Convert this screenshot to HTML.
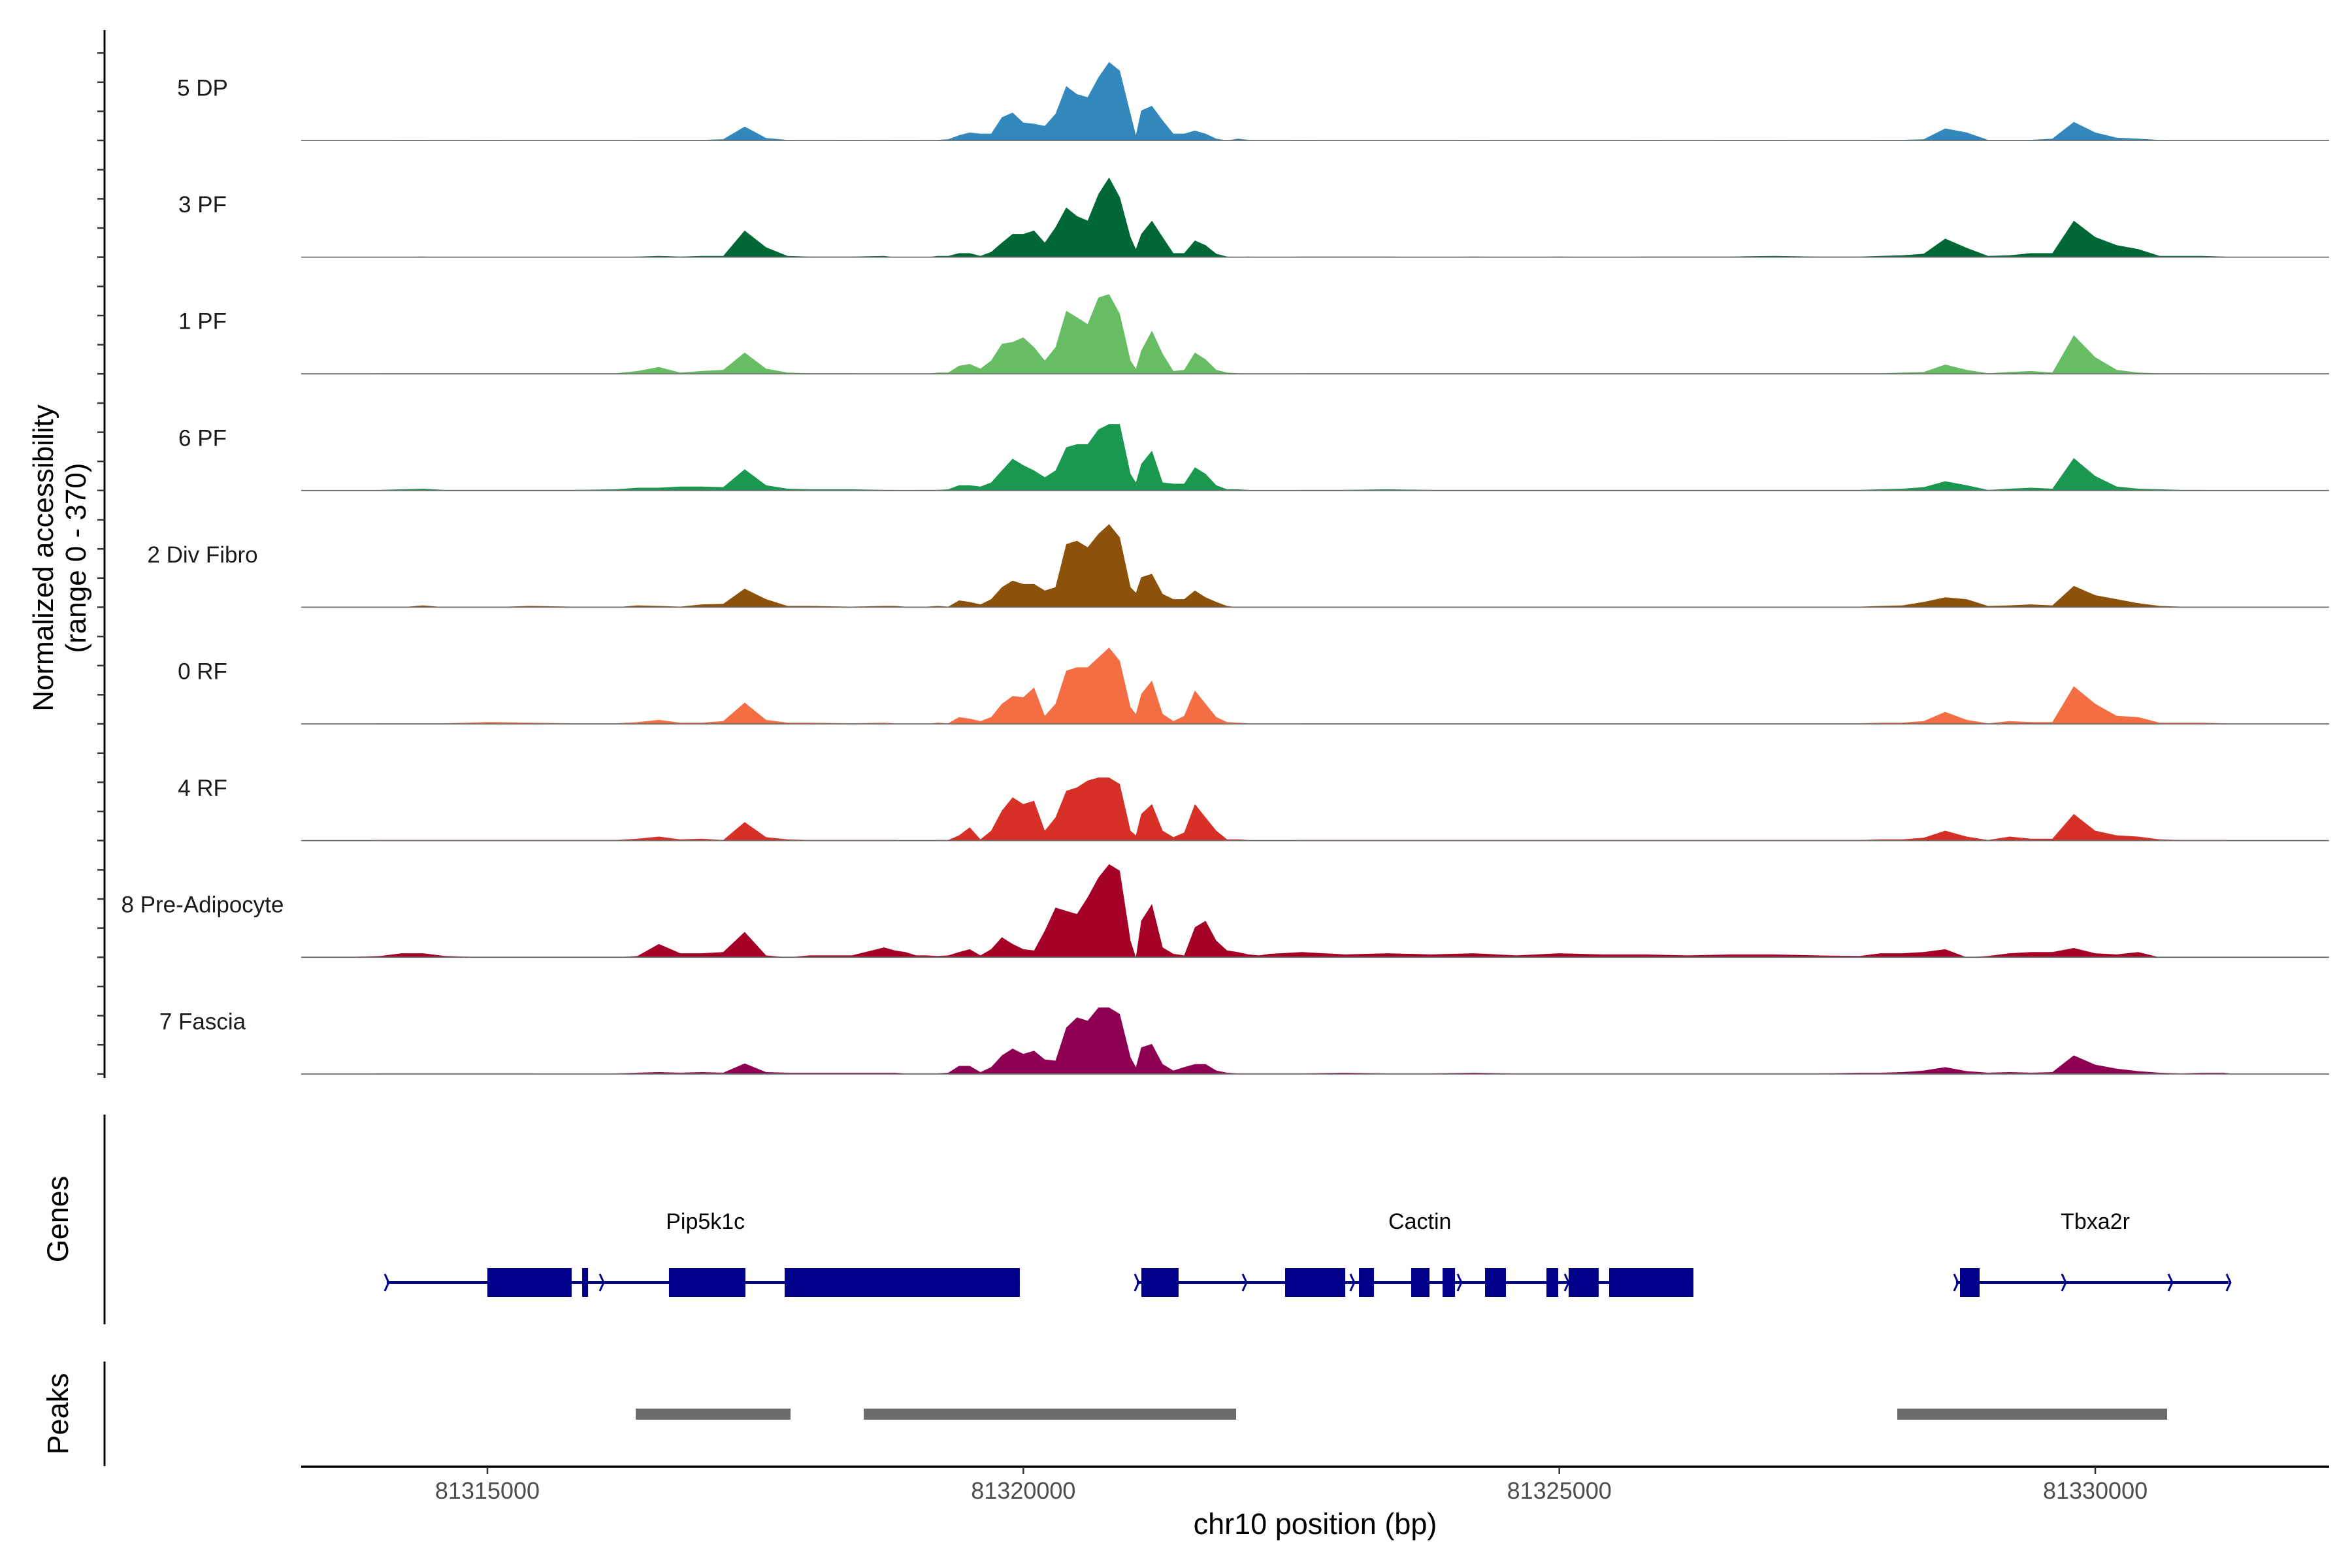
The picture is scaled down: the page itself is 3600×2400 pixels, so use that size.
<!DOCTYPE html>
<html><head><meta charset="utf-8"><style>
html,body{margin:0;padding:0;background:#fff;}
svg{display:block;font-family:"Liberation Sans",Arial,sans-serif;}
</style></head><body>
<svg id="chart" width="3600" height="2400" viewBox="0 0 3600 2400" xmlns="http://www.w3.org/2000/svg"></svg>
<script>
// ---- data ----
const trackNames = ["5 DP","3 PF","1 PF","6 PF","2 Div Fibro","0 RF","4 RF","8 Pre-Adipocyte","7 Fascia"];
const trackColors = ["#3288bd","#006837","#66bd63","#1a9850","#8c510a","#f46d43","#d73027","#a50026","#8e0152"];
const positions = [
81313200,81313600,81314000,81314200,81314400,81314600,81315000,81315400,81315800,81316200,81316400,81316600,81316800,81317000,81317200,81317400,81317600,81317800,81318000,81318400,
81318700,81318800,81318900,81319000,81319100,81319200,81319300,81319400,81319500,81319600,81319700,81319800,81319900,81320000,81320100,81320200,81320300,81320400,81320500,81320600,81320700,81320800,81320900,81321000,81321050,81321100,81321200,81321300,81321400,81321500,81321600,81321700,81321800,81321900,81322000,81322100,81322200,81322300,
81322600,81323000,81323400,81323800,81324200,81324600,81325000,81325400,81325800,81326200,81326600,81327000,81327400,81327800,81328000,81328200,81328400,81328600,81328800,81329000,81329200,81329400,81329600,81329800,81330000,81330200,81330400,81330600,81330800,81331000,81331200,81331300];
const covDP5 = [0,0,0,2,2,0,2,0,0,0,2,2,2,2,4,45,8,2,0,2,
0,2,2,2,0,2,4,17,26,22,22,75,90,58,54,47,86,176,150,140,204,254,226,86,17,97,112,65,22,22,32,22,6,0,6,2,0,0,
2,0,0,0,2,0,0,0,2,0,2,2,0,0,2,2,4,39,26,2,2,2,6,60,26,9,6,2,0,0,0,0];
const covPF3 = [0,0,0,0,2,0,0,0,0,0,2,4,2,4,4,86,32,4,2,2,
4,0,0,0,0,4,4,13,13,4,17,47,75,75,86,47,97,161,133,118,204,258,194,65,26,75,118,65,13,13,54,39,11,2,0,2,0,0,
2,2,2,0,2,0,2,0,2,2,2,4,2,2,4,6,11,60,30,4,6,13,13,118,65,39,26,4,4,4,2,0];
const covPF1 = [0,0,2,2,2,2,2,2,2,2,9,22,4,9,13,69,17,4,2,2,
0,0,0,0,0,4,4,26,32,17,43,97,103,118,86,43,86,204,183,161,247,258,194,43,17,75,140,65,9,13,69,47,13,4,2,0,0,0,
2,2,2,2,2,2,2,2,2,2,2,2,2,2,2,4,6,30,13,2,6,9,4,125,54,13,4,2,2,2,0,0];
const covPF6 = [0,0,2,4,6,2,2,2,2,4,9,9,13,13,11,69,17,6,4,4,
2,2,0,2,2,2,4,17,17,13,26,65,103,82,65,43,65,140,150,150,198,215,215,54,26,86,129,26,22,22,75,54,17,4,4,2,0,0,
2,2,4,2,2,2,2,2,2,2,2,2,2,2,4,6,11,30,17,2,6,9,6,105,47,13,6,4,2,2,0,0];
const covDiv2 = [0,0,0,0,6,0,0,4,2,0,6,4,2,9,11,60,26,4,4,2,
4,4,2,2,2,4,2,22,17,9,26,65,86,75,75,54,65,204,215,194,237,269,226,65,47,97,108,43,26,26,54,32,17,4,0,0,0,0,
2,2,2,2,2,2,2,2,2,2,2,0,2,2,4,6,17,32,26,4,6,9,6,69,39,26,13,4,2,2,0,0];
const covRF0 = [0,0,2,2,2,2,6,4,2,2,6,13,4,4,9,69,13,4,4,2,
4,2,0,0,0,4,2,22,17,9,22,65,90,86,118,26,65,172,183,183,215,247,204,54,32,97,140,32,9,26,108,65,22,6,4,2,0,0,
2,2,2,2,2,2,2,2,2,2,2,2,2,2,4,4,9,39,13,2,9,6,6,122,65,26,22,4,4,4,2,0];
const covRF4 = [0,0,2,2,2,2,2,2,2,2,6,13,4,6,2,60,11,4,2,2,
2,2,0,0,0,2,2,17,43,4,32,97,140,118,129,32,75,161,172,194,204,204,183,32,17,86,118,32,11,26,118,75,32,4,4,2,0,0,
2,2,2,2,2,2,2,2,2,2,2,2,2,2,4,4,9,32,13,2,13,6,6,86,32,17,13,4,2,2,2,0];
const covPreAd8 = [0,0,4,13,13,4,0,0,0,0,4,43,13,13,17,82,6,0,6,6,
32,22,17,6,6,4,6,17,26,6,26,65,43,26,22,86,161,150,140,194,258,301,280,54,0,118,172,32,11,6,97,118,54,22,17,9,6,11,
17,9,13,9,13,6,13,9,9,6,9,9,6,4,13,13,17,26,0,4,13,17,17,30,13,9,17,0,0,0,0,0];
const covFascia7 = [0,0,2,2,2,2,2,2,0,2,4,6,4,6,4,34,6,4,4,4,
4,4,2,2,2,2,4,26,26,6,22,60,82,65,75,47,43,150,183,172,215,215,194,54,22,86,97,32,11,22,32,32,11,4,2,2,2,2,
2,4,2,2,4,2,2,2,2,2,2,2,2,4,4,6,11,22,9,4,6,4,6,60,30,17,9,4,2,4,4,0];
const coverage = [covDP5,covPF3,covPF1,covPF6,covDiv2,covRF0,covRF4,covPreAd8,covFascia7];
const yRangeMax = 370;
const xTickValues = [81315000,81320000,81325000,81330000];
const xTickLabels = ["81315000","81320000","81325000","81330000"];
const geneNames = ["Pip5k1c","Cactin","Tbxa2r"];
const geneStarts = [81314061,81321058,81328701];
const geneEnds = [81319967,81326251,81331243];
const geneLabelPos = [81317034,81323699,81330000];
const exonStarts = [81315000,81315884,81316694,81317773,81321101,81322442,81323131,81323618,81323911,81324307,81324880,81325087,81325465,81328738];
const exonEnds = [81315786,81315939,81317407,81319967,81321448,81323003,81323271,81323789,81324027,81324502,81324990,81325367,81326251,81328921];
const arrowPos = [81314061,81316067,81321058,81322064,81323069,81324069,81325069,81328701,81329707,81330701,81331243];
const peakStarts = [81316384,81318511,81328153];
const peakEnds = [81317828,81321985,81330670];

// ---- scales ----
const NS="http://www.w3.org/2000/svg";
const svg=document.getElementById('chart');
const X0=746, BP0=81315000, PXBP=0.16407;
function xs(bp){return X0+(bp-BP0)*PXBP;}
const BASE0=215, TRACKSTEP=178.6, TRACKH=175;
function base(i){return BASE0+i*TRACKSTEP;}
function ys(i,v){return base(i)-v/yRangeMax*TRACKH;}
function mk(tag,attrs,parent){const e=document.createElementNS(NS,tag);for(const k in attrs)e.setAttribute(k,attrs[k]);(parent||svg).appendChild(e);return e;}
const PL=461, PR=3565;

// y axis (tracks)
const yaxis=mk('line',{x1:160,y1:46,x2:160,y2:1650,stroke:'#000','stroke-width':3});


for(let i=0;i<trackNames.length;i++){
  for(let k=0;k<4;k++){
    const y=base(i)-k*44.6;
    const t=mk('line',{x1:149,y1:y,x2:160,y2:y,stroke:'#333','stroke-width':2.5});
    
    
  }
}
const yt=mk('text',{x:0,y:0,'font-size':44,'text-anchor':'middle',transform:'translate(81,854) rotate(-90)',fill:'#000'});


yt.textContent='Normalized accessibility';
const yt2=mk('text',{x:0,y:0,'font-size':44,'text-anchor':'middle',transform:'translate(131,854) rotate(-90)',fill:'#000'});


yt2.textContent='(range 0 - 370)';

// tracks
for(let i=0;i<trackNames.length;i++){
  const vals=coverage[i];
  let d='M'+xs(positions[0]).toFixed(1)+','+base(i).toFixed(1);
  for(let j=0;j<positions.length;j++){d+=' L'+xs(positions[j]).toFixed(1)+','+ys(i,vals[j]).toFixed(1);}
  d+=' L'+xs(positions[positions.length-1]).toFixed(1)+','+base(i).toFixed(1)+' Z';
  const p=mk('path',{d:d,fill:trackColors[i]});
  
  
  const bl=mk('line',{x1:PL,y1:base(i),x2:PR,y2:base(i),stroke:'#6e6e6e','stroke-width':1.8});
  
  
  const lb=mk('text',{x:310,y:base(i)-80,'font-size':35,'text-anchor':'middle','dominant-baseline':'central',fill:'#1a1a1a'});
  
  
  lb.textContent=trackNames[i];
}

// genes panel
const ga=mk('line',{x1:160,y1:1706,x2:160,y2:2027,stroke:'#000','stroke-width':3});


const gt=mk('text',{x:0,y:0,'font-size':45,'text-anchor':'middle',transform:'translate(104,1866) rotate(-90)',fill:'#000'});


gt.textContent='Genes';
const GY=1963;
for(let g=0;g<geneNames.length;g++){
  const l=mk('line',{x1:xs(geneStarts[g]),y1:GY,x2:xs(geneEnds[g]),y2:GY,stroke:'#00008b','stroke-width':4});
  
  
  const t=mk('text',{x:xs(geneLabelPos[g]),y:1870,'font-size':34,'text-anchor':'middle','dominant-baseline':'central',fill:'#000'});
  
  
  t.textContent=geneNames[g];
}
for(let e=0;e<exonStarts.length;e++){
  const r=mk('rect',{x:xs(exonStarts[e]),y:1941,width:xs(exonEnds[e])-xs(exonStarts[e]),height:44,fill:'#00008b'});
  
  
}
for(let a=0;a<arrowPos.length;a++){
  const x=xs(arrowPos[a]);
  const p=mk('path',{d:'M'+(x-3)+','+(GY-13)+' L'+(x+3)+','+GY+' L'+(x-3)+','+(GY+13),fill:'none',stroke:'#00008b','stroke-width':3});
  
  
}

// peaks panel
const pa=mk('line',{x1:160,y1:2084,x2:160,y2:2244,stroke:'#000','stroke-width':3});


const pt=mk('text',{x:0,y:0,'font-size':45,'text-anchor':'middle',transform:'translate(104,2164) rotate(-90)',fill:'#000'});


pt.textContent='Peaks';
for(let k=0;k<peakStarts.length;k++){
  const r=mk('rect',{x:xs(peakStarts[k]),y:2156,width:xs(peakEnds[k])-xs(peakStarts[k]),height:17,fill:'#6b6b6b'});
  
  
}

// x axis
const xa=mk('line',{x1:PL,y1:2245,x2:PR,y2:2245,stroke:'#000','stroke-width':3.5});


for(let k=0;k<xTickValues.length;k++){
  const x=xs(xTickValues[k]);
  const t=mk('line',{x1:x,y1:2245,x2:x,y2:2256,stroke:'#333','stroke-width':2.5});
  
  
  const l=mk('text',{x:x,y:2294,'font-size':36,'text-anchor':'middle',fill:'#4d4d4d'});
  
  
  l.textContent=xTickLabels[k];
}
const xt=mk('text',{x:2013,y:2348,'font-size':45,'text-anchor':'middle',fill:'#000'});


xt.textContent='chr10 position (bp)';
</script>
</body></html>
